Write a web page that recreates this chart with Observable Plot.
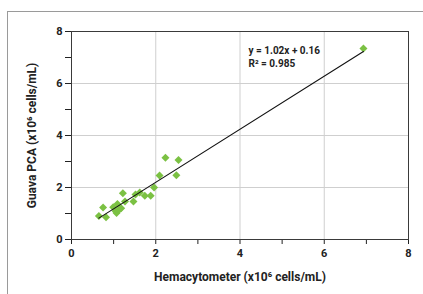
<!DOCTYPE html>
<html>
<head>
<meta charset="utf-8">
<script src="https://cdn.jsdelivr.net/npm/d3@7"></script>
<script src="https://cdn.jsdelivr.net/npm/@observablehq/plot@0.6"></script>
<style>
  html, body { margin: 0; padding: 0; background: #fff; }
  #wrap { position: relative; width: 423px; height: 294px; overflow: hidden; }
  #border { position: absolute; left: 7px; top: 11px; right: -2px; bottom: -2px;
            border-left: 1.5px solid #9a9a9a; border-top: 1.5px solid #9a9a9a; pointer-events: none; }
  svg { display: block; }
</style>
</head>
<body>
<div id="wrap"><div id="border"></div></div>
<script>
// Data
const hemacytometer = [0.65, 0.75, 0.82, 0.99, 1.05, 1.09, 1.07, 1.13, 1.18, 1.22, 1.27, 1.47, 1.52, 1.62, 1.74, 1.88, 1.96, 2.09, 2.23, 2.49, 2.54, 6.93];
const guavaPCA     = [0.90, 1.23, 0.86, 1.24, 1.09, 1.37, 1.02, 1.14, 1.20, 1.78, 1.46, 1.46, 1.73, 1.81, 1.68, 1.68, 2.00, 2.46, 3.14, 2.47, 3.06, 7.35];
const slope = 1.02;
const intercept = 0.16;
const equationLines = ["y = 1.02x + 0.16", "R² = 0.985"];
const axisTicks = [0, 1, 2, 3, 4, 5, 6, 7, 8];
const labelTicks = [0, 2, 4, 6, 8];
const gridTicks = [2, 4, 6];
const xTitle = "Hemacytometer (x10⁶ cells/mL)";
const yTitle = "Guava PCA (x10⁶ cells/mL)";

const points = hemacytometer.map((x, i) => ({x, y: guavaPCA[i]}));
const xMin = d3.min(hemacytometer), xMax = d3.max(hemacytometer);
const fit = [xMin, xMax].map(x => ({x, y: slope * x + intercept}));

const W = 423, H = 294, mL = 71, mR = 15, mT = 31, mB = 55;
const frameW = W - mL - mR, frameH = H - mT - mB;

const font = "Roboto, 'DejaVu Sans', sans-serif";
const chart = Plot.plot({
  width: W,
  height: H,
  marginLeft: mL,
  marginRight: mR,
  marginTop: mT,
  marginBottom: mB,
  style: {fontFamily: font, fontWeight: "700", fontSize: "11px", color: "#222", background: "transparent"},
  x: {domain: [0, 8]},
  y: {domain: [0, 8]},
  marks: [
    Plot.gridX(gridTicks, {stroke: "#cfcfcf", strokeOpacity: 1}),
    Plot.gridY(gridTicks, {stroke: "#cfcfcf", strokeOpacity: 1}),
    // outward tick marks at every integer
    Plot.ruleX(axisTicks, {x: d => d, insetTop: frameH, insetBottom: -5, stroke: "#222"}),
    Plot.ruleY(axisTicks, {y: d => d, insetLeft: -6, insetRight: frameW, stroke: "#222"}),
    Plot.axisX({ticks: labelTicks, tickSize: 0, tickPadding: 10, label: null, fill: "#222"}),
    Plot.axisY({ticks: labelTicks, tickSize: 0, tickPadding: 9, label: null, fill: "#222"}),
    Plot.frame({stroke: "#3a3a3a"}),
    Plot.dot(points, {x: "x", y: "y", symbol: "diamond2", r: 3.6, fill: "#7bc143", stroke: "none"}),
    Plot.line(fit, {x: "x", y: "y", stroke: "#111", strokeWidth: 1.1}),
    Plot.text([equationLines.join("\n")], {frameAnchor: "top-left", dx: 177, dy: 13, textAnchor: "start", lineAnchor: "top", lineHeight: 1.3, fontSize: 10, fill: "#222"}),
    Plot.text([xTitle], {frameAnchor: "bottom", dy: 41, fontSize: 12, fill: "#222"}),
    Plot.text([yTitle], {frameAnchor: "left", textAnchor: "middle", dx: -39, rotate: -90, fontSize: 12, fill: "#222"})
  ]
});
document.getElementById("wrap").appendChild(chart);
</script>
</body>
</html>
